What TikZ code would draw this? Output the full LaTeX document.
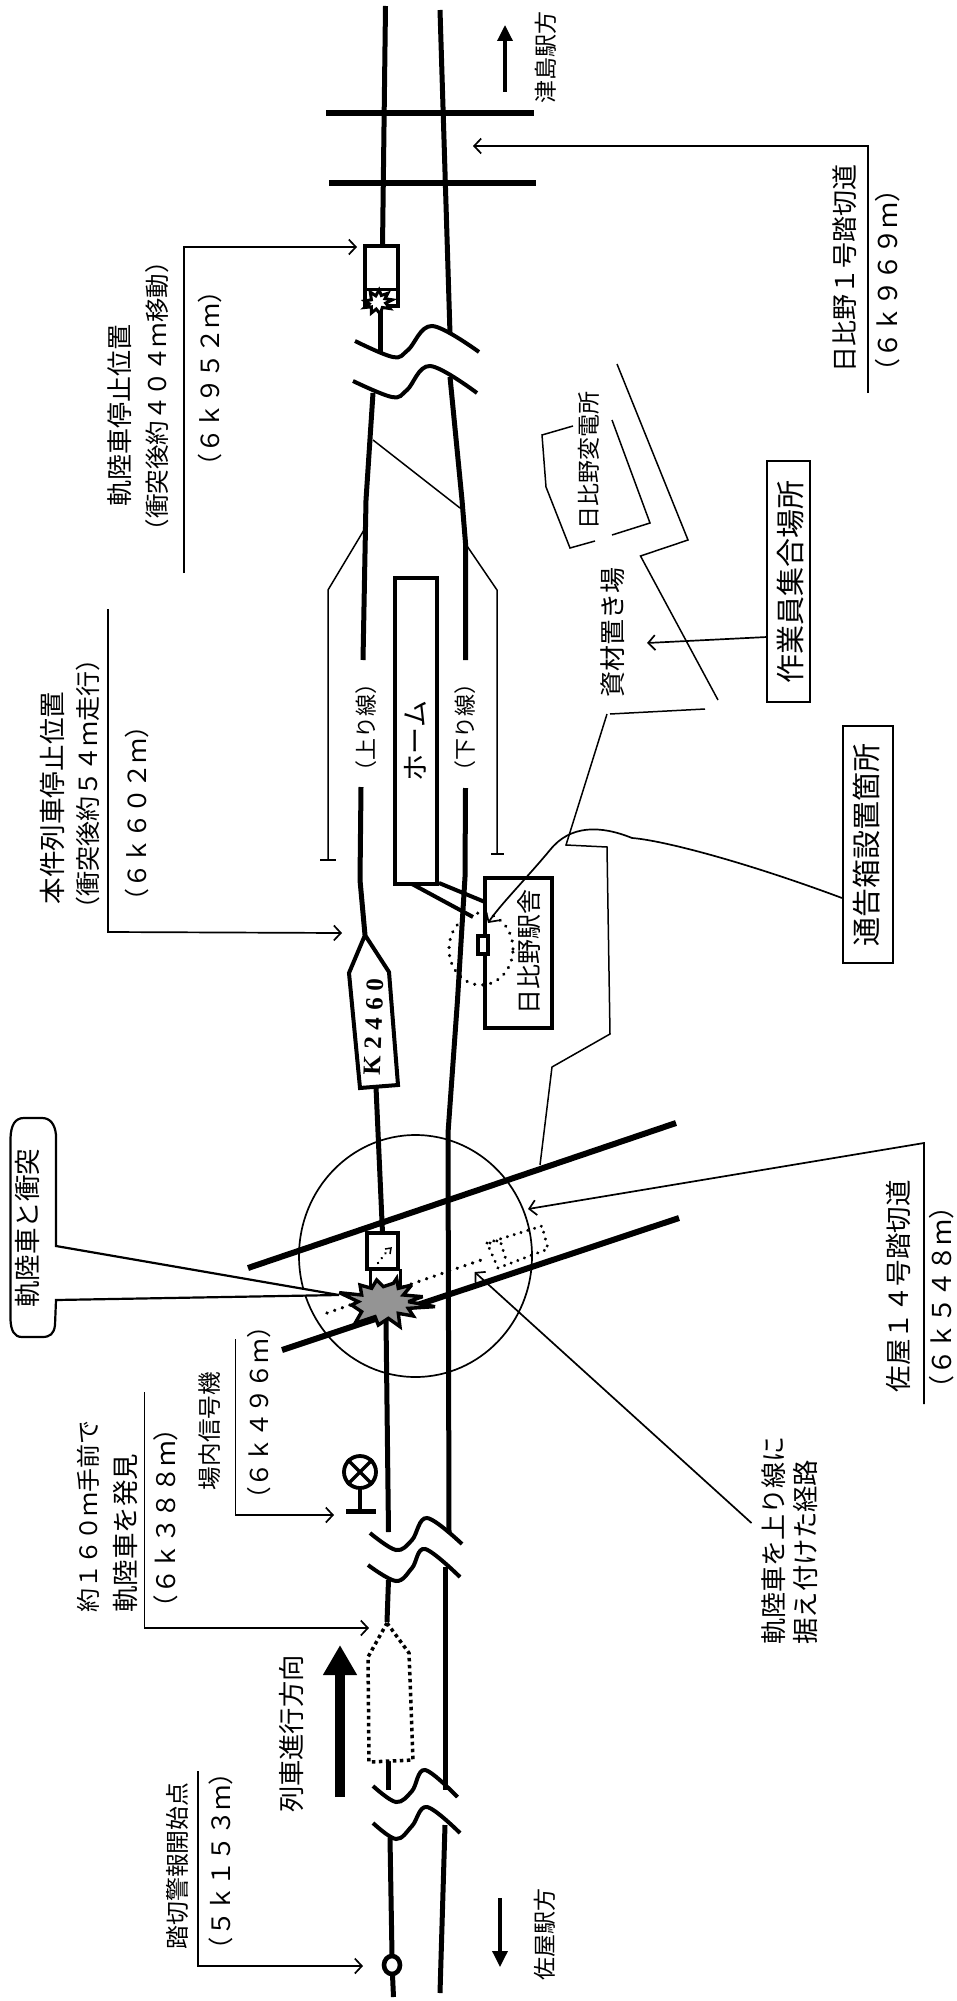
\documentclass[tikz,border=0pt]{standalone}
\usepackage{fontspec}
\setmainfont[Kerning=Off]{Noto Sans CJK JP}
\usetikzlibrary{arrows.meta}
\tikzset{
  rail/.style={line width=5pt,line cap=butt,line join=round},
  brk/.style={line width=4pt,line cap=butt},
  thin line/.style={line width=1.5pt,line join=miter},
  lead/.style={line width=1.7pt,-{Straight Barb[length=7pt,width=15pt,line width=1.7pt]}},
  road/.style={line width=6pt},
  boxl/.style={line width=2.2pt,fill=white},
  dotl/.style={line width=3.6pt,line cap=round,dash pattern=on 0.1pt off 8pt},
  dotm/.style={line width=3.2pt,line cap=round,dash pattern=on 0.1pt off 7pt},
  lbl/.style={rotate=90,inner sep=0pt,anchor=center,text=black}
}
\newcommand{\lab}[4]{\node[lbl,font=\fontsize{#3}{#3}\selectfont] (#1) at #2 {#4};}
\newcommand{\brkc}[5]{\draw[brk] plot[smooth,tension=0.6] coordinates {#1 #2 #3 #4 #5};}
\begin{document}
\begin{tikzpicture}[x=1pt,y=-1pt]
\useasboundingbox (0,0) rectangle (956,2001);
\fill[white] (0,0) rectangle (956,2001);

% --- tracks ---
\draw[rail] (385.5,6) -- (382.5,247);
\draw[rail] (380,307) -- (380,354);
\draw[rail] (373,393) -- (366,500) -- (363,660);
\draw[rail] (361,787) -- (360,880) -- (365,935);
\draw[rail] (376,1087) -- (382.5,1233);
\draw[rail] (386,1320) -- (388.5,1532);
\draw[rail] (388.5,1580) -- (387,1622);
\draw[rail] (388.6,1760) -- (388.6,1790);
\draw[rail] (390,1838) -- (392,1955);
\draw[rail] (392.5,1975) -- (393.5,1997);
\draw[rail] (440,10) -- (450,334);
\draw[rail] (450,377) -- (462,500) -- (465.5,543) -- (465.5,660);
\draw[rail] (465.5,788) -- (465,877) -- (457.5,1000) -- (448,1133) -- (449,1533);
\draw[rail] (445,1567) -- (445,1790);
\draw[rail] (445,1825) -- (440,1993);
\draw[line width=4.6pt] (392,1965) ellipse (8pt and 9pt);

% --- breaks ---
\brkc{(355,341)}{(393,357)}{(408,350)}{(432,326)}{(479,352)}
\brkc{(353,381)}{(392,397)}{(407,390)}{(430,366)}{(477,393)}
\brkc{(370,1533)}{(396,1550)}{(412,1540)}{(427,1518)}{(462,1544)}
\brkc{(368,1565)}{(396,1581)}{(412,1568)}{(425,1549)}{(460,1577)}
\brkc{(373,1786)}{(396,1802)}{(412,1791)}{(425,1770)}{(457.5,1797)}
\brkc{(373,1823)}{(396,1839)}{(412,1826)}{(427,1807)}{(460,1833)}

% --- level crossing, top ---
\draw[road] (326,113) -- (534,113);
\draw[road] (329,183) -- (536,183);

% --- direction arrows ---
\draw[line width=3.4pt,-{Triangle[length=16pt,width=15pt]}] (505,92) -- (505,25);
\draw[line width=3.4pt,-{Triangle[length=16pt,width=15pt]}] (500,1898) -- (500,1967);
\draw[line width=10pt,-{Triangle[length=30pt,width=32pt]}] (340,1797) -- (340,1645);

% --- loco at stop position ---
\draw[line width=3.8pt,fill=white] (365,246) rectangle (398,306);
\draw[line width=3pt] (365,289) -- (398,289);
\begin{scope}[shift={(378,302)},scale=0.22]
\draw[line width=3pt,fill=white] (-60,-5) -- (-30,-10) -- (-35,-45) -- (-10,-28) -- (5,-55) -- (15,-30) -- (45,-40) -- (32,-15) -- (65,-10) -- (35,5) -- (55,30) -- (20,25) -- (10,55) -- (-8,32) -- (-30,50) -- (-30,22) -- (-60,25) -- (-40,8) -- cycle;
\end{scope}

% --- train K2460 ---
\draw[line width=4pt,line join=miter,fill=white] (365,935) -- (389,972) -- (398,1085) -- (360,1088) -- (349,973) -- cycle;
\node[rotate=88,inner sep=0pt,font=\fontsize{25}{25}\selectfont\fontspec{Liberation Serif}\bfseries] (ktrain) at (373.5,1027) {K\hspace{7pt}2\hspace{7pt}4\hspace{7pt}6\hspace{7pt}0};

% --- dotted train ---
\draw[line width=3.5pt,dash pattern=on 3.5pt off 3.5pt,fill=white] (387,1623) -- (409,1653) -- (413,1760) -- (369,1762) -- (368,1657) -- cycle;

% --- platform and station ---
\draw[line width=4pt] (412,884) -- (473,917);
\draw[line width=4pt] (439,883) -- (485,902);
\draw[line width=3.8pt,fill=white] (395,578) rectangle (437,884);
\lab{home}{(415,741)}{27}{ホーム}
\draw[line width=4pt,fill=white] (485,878) rectangle (552,1028);
\lab{eki}{(529,952)}{25}{日比野駅舎}
\draw[line width=3.4pt,line cap=round,dash pattern=on 0.1pt off 8pt] (481,949) ellipse (32pt and 36pt);
\draw[line width=4.6pt,fill=white] (478,936) rectangle (488,954);

% --- side rails for line labels ---
\draw[thin line] (364,530) -- (328,590) -- (328,860);
\draw[thin line,line width=2.2pt] (320,860) -- (336,860);
\draw[thin line] (465,543) -- (497,590) -- (497,854);
\draw[thin line,line width=2.2pt] (491,854) -- (504,854);
\draw[thin line] (373,440) -- (460,508);
\lab{nobori}{(366,727)}{22}{（上り線）}
\lab{kudari}{(465,727)}{22}{（下り線）}

% --- level crossing and accident zone ---
\draw[line width=1.7pt] (415.5,1256) ellipse (116.5pt and 121pt);
\draw[road] (248,1268) -- (676,1123);
\draw[road] (282,1350) -- (679,1218);
\draw[line width=3.6pt,fill=white] (367,1233) rectangle (398,1269);
\draw[line width=3pt] (370,1269) -- (370,1290) (400,1269) -- (400,1290);
\draw[dotl] (327,1313) -- (487,1258);
\draw[dotm] (487,1243) -- (542,1226) -- (548,1249) -- (498,1268) -- cycle;
\draw[dotm] (490,1243) -- (500,1240) -- (507,1263);
\draw[line width=2.6pt,line cap=round,dash pattern=on 0.1pt off 6pt] (378,1263) -- (388,1250);
\draw[line width=1.5pt] (385,1249) -- (391,1248) -- (390,1254);

% --- explosion ---
\begin{scope}[shift={(280,1180)},scale=0.3333]
\draw[line width=3.4pt,line join=miter,miter limit=3,fill=black!42] (178,338) -- (245,345) -- (240,315) -- (275,325) -- (290,300) -- (310,320) -- (340,310) -- (350,295) -- (355,325) -- (395,315) -- (370,345) -- (428,350) -- (385,365) -- (465,380) -- (385,385) -- (400,408) -- (355,400) -- (360,440) -- (325,415) -- (295,435) -- (285,410) -- (225,430) -- (245,395) -- (215,375) -- (235,365) -- cycle;
\end{scope}

% --- signal ---
\draw[line width=4.6pt] (360,1488) -- (360,1511);
\draw[line width=5pt] (346,1511) -- (376,1511);
\node[draw,circle,line width=3.8pt,minimum size=32pt,inner sep=0pt] (sig) at (360,1472) {};
\draw[line width=3.4pt] (sig.north west) -- (sig.south east) (sig.north east) -- (sig.south west);

% --- named leader ends ---
\coordinate (a1) at (868,393);\coordinate (a2) at (868,146);\coordinate (a3) at (473,146);
\draw[lead] (a1) -- (a2) -- (a3);
\coordinate (b1) at (184,573);\coordinate (b2) at (184,247);\coordinate (b3) at (357,247);
\draw[lead] (b1) -- (b2) -- (b3);
\coordinate (c1) at (108,609);\coordinate (c2) at (108,932);\coordinate (c3) at (342,933);
\draw[lead] (c1) -- (c2) -- (c3);
\coordinate (d1) at (924,1404);\coordinate (d2) at (924,1143);\coordinate (d3) at (528,1209);
\draw[lead] (d1) -- (d2) -- (d3);
\coordinate (e1) at (235.5,1339);\coordinate (e2) at (235.5,1515);\coordinate (e3) at (334,1515);
\draw[lead] (e1) -- (e2) -- (e3);
\coordinate (f1) at (144.5,1392);\coordinate (f2) at (144.5,1628);\coordinate (f3) at (369,1628);
\draw[lead] (f1) -- (f2) -- (f3);
\coordinate (g1) at (198,1771);\coordinate (g2) at (198,1966);\coordinate (g3) at (363,1966);
\draw[lead] (g1) -- (g2) -- (g3);
\coordinate (h1) at (751.5,1523);\coordinate (h2) at (474.6,1272);
\draw[lead] (h1) -- (h2);

% --- material yard outline ---
\draw[thin line] (617,364) -- (688,540) -- (640.5,556) -- (718,700);
\draw[thin line] (705,709) -- (610,714);
\draw[thin line] (607,714) -- (566,845) -- (607,847) -- (610,1034) -- (552,1067) -- (540,1165);
% --- substation outline ---
\draw[thin line] (612,420) -- (650,523) -- (612,535);
\draw[thin line] (595,541) -- (570,548) -- (546,487) -- (542,435) -- (573,426);

% --- boxes at the right ---
\draw[boxl] (767,461) rectangle (810,702);
\lab{shugo}{(790,582)}{29}{作業員集合場所}
\draw[boxl] (843,726) rectangle (893,963);
\lab{tsukoku}{(867,845)}{29}{通告箱設置箇所}
\coordinate (s1) at (767,637);\coordinate (s2) at (647,643);
\draw[lead] (s1) -- (s2);
\coordinate (t1) at (842,898);\coordinate (t2) at (488,923);
\draw[lead] (t1) .. controls (740,860) and (660,840) .. (632,838) .. controls (600,825) and (570,825) .. (550,850) .. controls (525,880) and (500,905) .. (t2);

% --- callout ---
\draw[line width=2.2pt,fill=white] (56,1246) -- (339,1295) -- (56,1300) -- (55,1325) .. controls (54,1334) and (50,1337) .. (42,1337) -- (22,1337) .. controls (14,1337) and (11,1330) .. (10.5,1320) -- (10.5,1138) .. controls (11,1125) and (15,1118) .. (24,1118) -- (42,1118) .. controls (50,1118) and (55,1124) .. (56,1135) -- cycle;
\lab{shototsu}{(27,1228)}{26.5}{軌陸車と衝突}

% --- labels ---
\lab{l1}{(546,58)}{23}{津島駅方}
\lab{l2}{(845,268)}{26}{日比野１号踏切道}
\lab{l3}{(888,280)}{26}{（６ｋ９６９ｍ）}
\lab{l4}{(120,415)}{26}{軌陸車停止位置}
\lab{l5}{(157,396)}{24.5}{（衝突後約４０４ｍ移動）}
\lab{l6}{(210,378)}{25}{（６ｋ９５２ｍ）}
\lab{l7}{(52,798)}{26.6}{本件列車停止位置}
\lab{l8}{(88,784)}{25}{（衝突後約５４ｍ走行）}
\lab{l9}{(137,813)}{25}{（６ｋ６０２ｍ）}
\lab{l10}{(589,460)}{23}{日比野変電所}
\lab{l11}{(613,632)}{26}{資材置き場}
\lab{l12}{(898,1286)}{26.5}{佐屋１４号踏切道}
\lab{l13}{(942,1297)}{26}{（６ｋ５４８ｍ）}
\lab{l14}{(210,1431)}{23.6}{場内信号機}
\lab{l15}{(259,1413)}{24.7}{（６ｋ４９６ｍ）}
\lab{l16}{(88,1516)}{24}{約１６０ｍ手前で}
\lab{l17}{(125,1533)}{26.5}{軌陸車を発見}
\lab{l18}{(166,1518)}{25.6}{（６ｋ３８８ｍ）}
\lab{l19}{(292,1734)}{26.3}{列車進行方向}
\lab{l20}{(177,1866)}{23.9}{踏切警報開始点}
\lab{l21}{(221,1861)}{25.3}{（５ｋ１５３ｍ）}
\lab{l22}{(545,1934)}{23}{佐屋駅方}
\lab{l23}{(773.5,1540)}{26}{軌陸車を上り線に}
\lab{l24}{(805,1552)}{26.4}{据え付けた経路}
\end{tikzpicture}
\end{document}
